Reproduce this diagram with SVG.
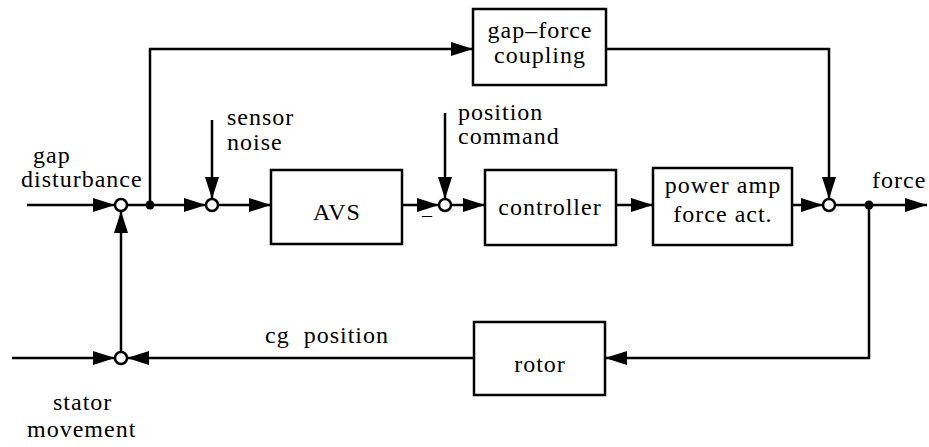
<svg xmlns="http://www.w3.org/2000/svg" width="929" height="447" viewBox="0 0 929 447">
<defs>
<marker id="ah" viewBox="0 0 22 14" refX="22" refY="7" markerWidth="22" markerHeight="14" markerUnits="userSpaceOnUse" orient="auto">
<path d="M0,0 L22,7 L0,14 z" fill="#000"/>
</marker>
</defs>
<style>
.box{fill:#fff;stroke:#000;stroke-width:2.5}
.ar{fill:none;stroke:#000;stroke-width:2.5;marker-end:url(#ah)}
.sj{fill:#fff;stroke:#000;stroke-width:2.5}
.dot{fill:#000}
.t{font-family:"Times New Roman",Times,"Liberation Serif",Tinos,"DejaVu Serif","Noto Serif",serif;font-size:24px;letter-spacing:1px;fill:#000}
.c{text-anchor:middle}
</style>
<rect width="929" height="447" fill="#fff"/>
<g id="connectors">
<path class="ar" d="M27,205 L115,205"/>
<path class="ar" d="M127,205 L206,205"/>
<path class="ar" d="M218,205 L271,205"/>
<path class="ar" d="M212,120 L212,199"/>
<path class="ar" d="M402,205 L439,205"/>
<path class="ar" d="M445,113 L445,199"/>
<path class="ar" d="M451,205 L485,205"/>
<path class="ar" d="M616,205 L653,205"/>
<path class="ar" d="M792,205 L823,205"/>
<path class="ar" d="M835,205 L927,205"/>
<path class="ar" d="M150,205 L150,49 L473,49"/>
<path class="ar" d="M606,49 L829,49 L829,199"/>
<path class="ar" d="M869,205 L869,358 L605,358"/>
<path class="ar" d="M474,358 L127,358"/>
<path class="ar" d="M12,358 L115,358"/>
<path class="ar" d="M121,352 L121,211"/>
<circle class="dot" cx="150" cy="205" r="4.5"/>
<circle class="dot" cx="869" cy="205" r="4.5"/>
</g>
<g id="sum1"><circle class="sj" cx="121" cy="205" r="6"/></g>
<g id="sum2"><circle class="sj" cx="212" cy="205" r="6"/></g>
<g id="sum3"><circle class="sj" cx="445" cy="205" r="6"/><text class="t" x="422" y="222" style="font-size:20px">–</text></g>
<g id="sum4"><circle class="sj" cx="829" cy="205" r="6"/></g>
<g id="sum5"><circle class="sj" cx="121" cy="358" r="6"/></g>
<g id="avs"><rect class="box" x="271" y="170" width="131" height="74"/><text class="t c" x="337" y="220">AVS</text></g>
<g id="controller"><rect class="box" x="485" y="170" width="131" height="75"/><text class="t c" x="550" y="215">controller</text></g>
<g id="power"><rect class="box" x="653" y="168" width="139" height="77"/><text class="t c" x="723" y="193">power amp</text><text class="t c" x="723" y="222">force act.</text></g>
<g id="gapforce"><rect class="box" x="473" y="9" width="133" height="76"/><text class="t c" x="540" y="38">gap–force</text><text class="t c" x="540" y="63">coupling</text></g>
<g id="rotor"><rect class="box" x="474" y="322" width="131" height="73"/><text class="t c" x="540" y="372">rotor</text></g>
<g id="labels">
<text class="t" x="33" y="163">gap</text>
<text class="t" x="21" y="187">disturbance</text>
<text class="t" x="227" y="125">sensor</text>
<text class="t" x="227" y="150">noise</text>
<text class="t" x="458" y="120">position</text>
<text class="t" x="458" y="144">command</text>
<text class="t" x="872" y="188">force</text>
<text class="t" x="265" y="343" xml:space="preserve">cg  position</text>
<text class="t" x="53" y="410">stator</text>
<text class="t" x="27" y="437">movement</text>
</g>
</svg>
